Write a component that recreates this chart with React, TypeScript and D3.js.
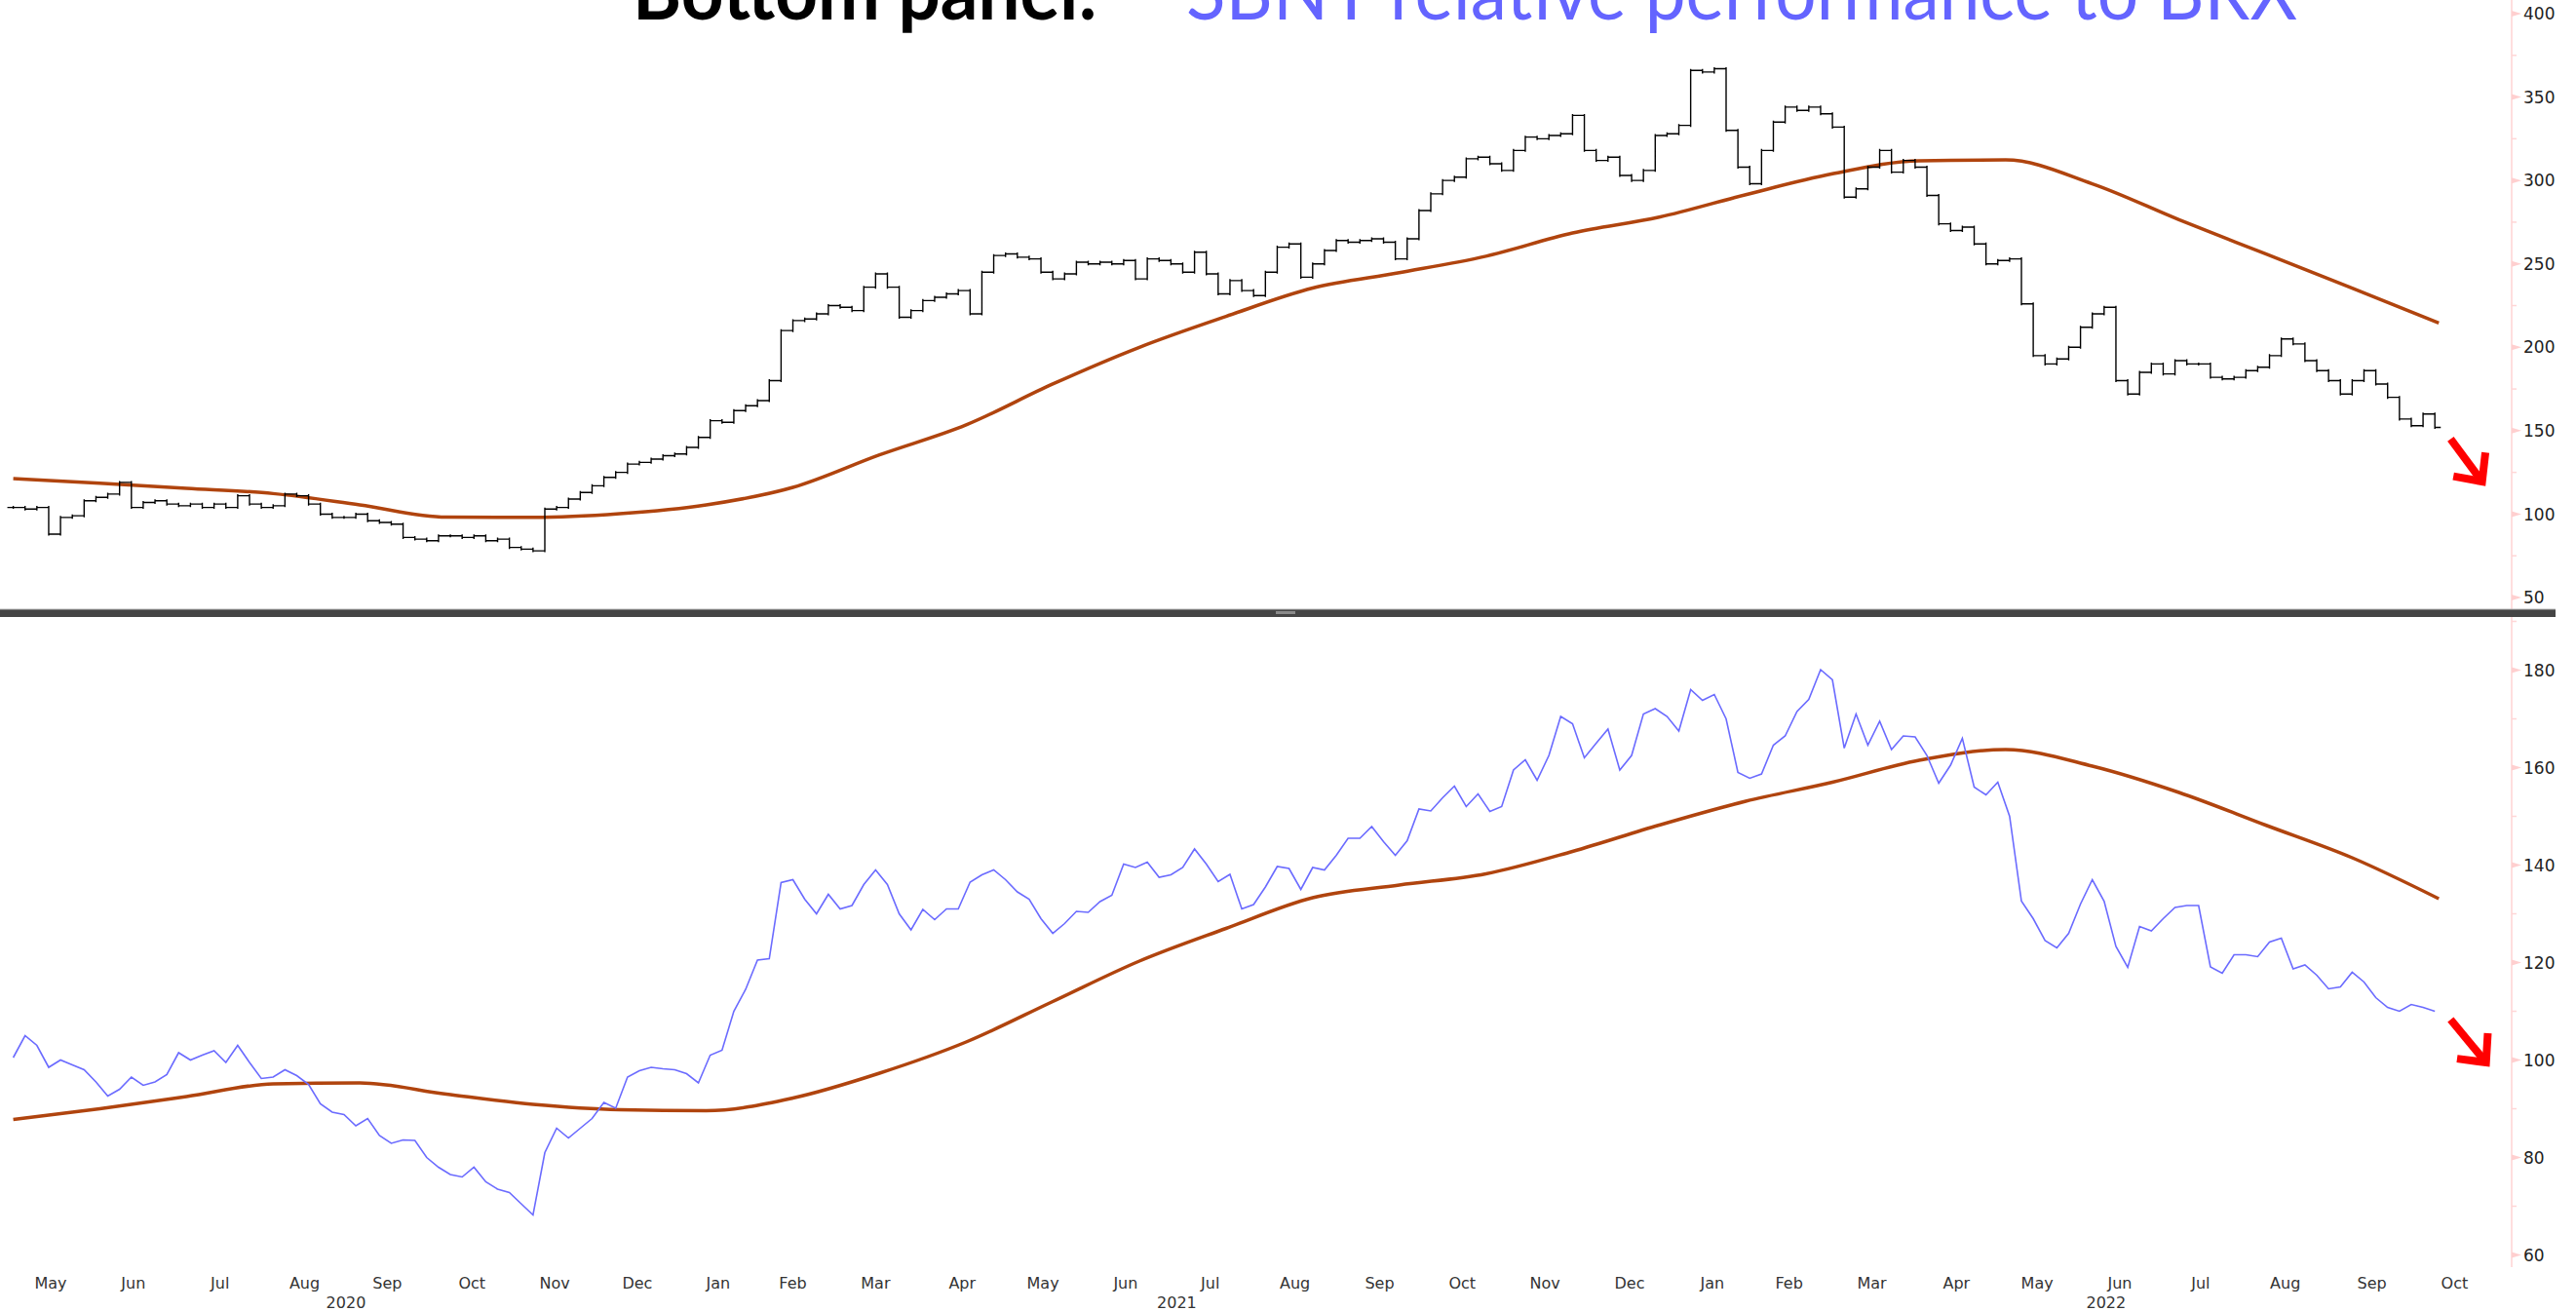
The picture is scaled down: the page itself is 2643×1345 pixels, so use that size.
import { useMemo } from "react";
import * as d3 from "d3";

const W = 2643;
const H = 1345;

// trading-day x axis: first day, last labelled month, year-label extent
const START = "2020-05-01";
const AXIS_END = "2022-10-31";
const YEAR_END = "2022-11-15";
const STEP = 3; // series sampled every 3 trading days
const MA_STEP = 22;

const holidays = [
  "2020-05-25", "2020-07-03", "2020-09-07", "2020-11-26", "2020-12-25",
  "2021-01-01", "2021-01-18", "2021-02-15", "2021-04-02", "2021-05-31",
  "2021-07-05", "2021-09-06", "2021-11-25", "2021-12-24",
  "2022-01-17", "2022-02-21", "2022-04-15", "2022-05-30", "2022-06-20",
  "2022-07-04", "2022-09-05", "2022-11-24",
];

// top panel: SBNY price bars (close every 3rd trading day)
const sbnyClose = [
  104, 103, 104, 88, 98, 99, 108, 110, 112, 119,
  104, 107, 108, 106, 105, 106, 104, 106, 104, 111,
  106, 104, 105, 112, 111, 106, 100, 98, 98, 100,
  96, 95, 94, 86, 85, 84, 87, 87, 86, 87,
  84, 85, 80, 79, 78, 103, 104, 109, 113, 117,
  122, 125, 130, 131, 133, 135, 136, 140, 146, 156,
  155, 162, 165, 168, 180, 210, 216, 217, 220, 225,
  224, 222, 236, 244, 236, 218, 222, 228, 230, 232,
  234, 220, 245, 255, 256, 254, 253, 245, 241, 244,
  251, 250, 251, 250, 252, 241, 253, 252, 250, 245,
  257, 244, 232, 240, 234, 231, 245, 260, 262, 242,
  250, 258, 264, 263, 264, 265, 263, 253, 265, 282,
  292, 300, 302, 313, 314, 310, 306, 318, 326, 325,
  327, 328, 339, 318, 312, 314, 303, 300, 306, 327,
  328, 333, 366, 365, 367, 330, 308, 298, 318, 335,
  344, 342, 344, 340, 332, 290, 295, 308, 318, 305,
  312, 308, 291, 274, 270, 272, 262, 250, 252, 253,
  226, 195, 190, 193, 200, 212, 220, 224, 180, 172,
  185, 190, 184, 192, 190, 190, 182, 181, 182, 186,
  188, 195, 205, 202, 192, 186, 180, 172, 180, 186,
  178, 170, 157, 153, 160, 152,
];

// top panel moving average (every 22 trading days)
const sbnyMA = [
  121.3, 118.5, 115.5, 112.3, 105.5, 98.2, 98, 100.2, 105.5, 116,
  135.5, 153.5, 178, 200, 218.5, 235.5, 244.7, 254.6, 268.5, 278,
  291.5, 304, 311.8, 312.3, 298, 276.5, 256, 235.5, 214.5,
];

// bottom panel: SBNY relative to BRX
const relPerf = [
  100.5, 105, 103, 98.5, 100, 99, 98, 95.5, 92.6, 94,
  96.5, 94.8, 95.5, 97, 101.5, 100, 101, 101.9, 99.5, 103,
  99.5, 96.2, 96.5, 98, 96.8, 95, 91, 89.3, 88.8, 86.5,
  88, 84.5, 82.9, 83.6, 83.5, 80, 78, 76.5, 76, 78,
  75, 73.5, 72.8, 70.5, 68.2, 81, 86, 84, 86, 88,
  91.3, 90.1, 96.5, 97.8, 98.5, 98.2, 98, 97.2, 95.3, 101,
  102, 110, 114.5, 120.5, 120.8, 136.4, 137, 133, 130, 134,
  131, 131.7, 136, 139, 136, 130, 126.7, 130.9, 128.8, 131,
  131, 136.5, 138, 139, 137, 134.5, 133, 129, 126, 128,
  130.5, 130.3, 132.5, 133.8, 140.2, 139.5, 140.6, 137.5, 138, 139.5,
  143.3, 140.2, 136.6, 138.1, 131, 131.9, 135.5, 139.7, 139.3, 135,
  139.5, 139, 142, 145.5, 145.5, 147.9, 144.8, 142, 145, 151.5,
  151.1, 153.8, 156.2, 152, 154.6, 151, 152, 159.5, 161.6, 157.4,
  162.5, 170.5, 169, 162, 165, 167.9, 159.5, 162.5, 171, 172.1,
  170.5, 167.5, 176, 173.8, 175, 170, 159, 157.8, 158.7, 164.6,
  166.5, 171.5, 174, 180.1, 178, 164, 171, 164.6, 169.5, 163.7,
  166.5, 166.3, 162.5, 156.8, 160.5, 166, 156, 154.4, 157, 150,
  132.6, 129, 124.5, 123, 126, 132, 137, 132.6, 123.3, 119,
  127.4, 126.5, 129, 131.3, 131.7, 131.7, 119.1, 117.8, 121.6, 121.6,
  121.2, 124.2, 125, 118.7, 119.5, 117.4, 114.6, 115, 118, 116,
  112.8, 110.8, 110, 111.4, 110.8, 110,
];

const relMA = [
  87.8, 90, 92.5, 95.1, 95.3, 93, 90.9, 89.8, 89.6, 92.2,
  97.3, 103.7, 112, 120.3, 127, 133.3, 135.9, 138.2, 142.8, 148.2,
  153.1, 157, 161.5, 163.7, 160.3, 154.9, 148.2, 141.5, 133.1,
];

const topTicks = [50, 100, 150, 200, 250, 300, 350, 400];
const topMinor = [75, 125, 175, 225, 275, 325, 375];
const botTicks = [60, 80, 100, 120, 140, 160, 180];
const botMinor = [70, 90, 110, 130, 150, 170, 190];

// red trend arrows: [idx0, v0, idx1, v1]
const topArrow = [619, 145, 627, 119.5];
const botArrow = [619, 108.3, 628, 99.5];

const AXIS_X = 2577;
const DIVIDER_Y = 625;
const tickFont = "'DejaVu Sans', Verdana, sans-serif";

export default function App() {
  const fmt = d3.utcFormat("%Y-%m-%d");
  const parse = (s: string) => new Date(s + "T00:00:00Z");

  const days = useMemo(() => {
    const hs = new Set(holidays);
    return d3.utcDay
      .range(parse(START), d3.utcDay.offset(parse(YEAR_END), 1))
      .filter((d) => d.getUTCDay() !== 0 && d.getUTCDay() !== 6 && !hs.has(fmt(d)));
  }, []);

  const axisEnd = parse(AXIS_END);
  const lastIdx = days.filter((d) => d <= axisEnd).length - 1;

  const x = d3.scaleLinear().domain([0, lastIdx]).range([13.6, 13.6 + 4.04 * lastIdx]);
  const yTop = d3.scaleLinear().domain([50, 400]).range([613, 14]);
  const yBot = d3.scaleLinear().domain([60, 180]).range([1287.5, 687.5]);

  const months = d3.groups(
    days.map((d, i) => ({ d, i })).filter((o) => o.d <= axisEnd),
    (o) => d3.utcFormat("%Y-%m")(o.d)
  ).map(([, arr]) => ({
    label: d3.utcFormat("%b")(arr[0].d),
    x: x(d3.mean(arr, (o) => o.i) as number),
  }));

  const years = d3.groups(
    days.map((d, i) => ({ d, i })),
    (o) => o.d.getUTCFullYear()
  ).map(([yr, arr]) => ({ label: String(yr), x: x(d3.mean(arr, (o) => o.i) as number) }));

  // price bars: vertical from previous close to close, open tick left, close tick right
  const half = (x(STEP) - x(0)) / 2;
  const barPath = sbnyClose
    .map((c, i) => {
      const o = i > 0 ? sbnyClose[i - 1] : c;
      const xi = x(i * STEP);
      const yo = yTop(o);
      const yc = yTop(c);
      return `M${xi},${Math.min(yo, yc) - 1.5}V${Math.max(yo, yc) + 1.5}M${xi - half},${yo}H${xi}M${xi},${yc}H${xi + half}`;
    })
    .join("");

  const maLine = (yS: d3.ScaleLinear<number, number>) =>
    d3.line<number>()
      .x((_, i) => x(i * MA_STEP))
      .y((v) => yS(v))
      .curve(d3.curveMonotoneX);

  const relLine = d3.line<number>()
    .x((_, i) => x(i * STEP))
    .y((v) => yBot(v));

  const arrow = (a: number[], yS: d3.ScaleLinear<number, number>) => {
    const x0 = x(a[0]), y0 = yS(a[1]), x1 = x(a[2]), y1 = yS(a[3]);
    const ang = Math.atan2(y1 - y0, x1 - x0);
    const L = 30;
    const w1 = [x1 - L * Math.cos(ang - 0.75), y1 - L * Math.sin(ang - 0.75)];
    const w2 = [x1 - L * Math.cos(ang + 0.75), y1 - L * Math.sin(ang + 0.75)];
    return (
      <g stroke="#ff0000" strokeWidth={8} fill="none" strokeLinecap="butt" strokeLinejoin="miter">
        <line x1={x0} y1={y0} x2={x1 - 4 * Math.cos(ang)} y2={y1 - 4 * Math.sin(ang)} />
        <polyline points={`${w1[0]},${w1[1]} ${x1},${y1} ${w2[0]},${w2[1]}`} />
      </g>
    );
  };

  const axisTicks = (
    ticks: number[],
    minor: number[],
    yS: d3.ScaleLinear<number, number>
  ) => (
    <g>
      {minor.map((v) => (
        <line key={"m" + v} x1={AXIS_X} x2={AXIS_X + 5} y1={yS(v)} y2={yS(v)} stroke="#ffd6d6" strokeWidth={1.5} />
      ))}
      {ticks.map((v) => (
        <g key={v}>
          <polygon
            points={`${AXIS_X},${yS(v) - 3} ${AXIS_X + 10},${yS(v)} ${AXIS_X},${yS(v) + 3}`}
            fill="#ffcfcf"
          />
          <text x={AXIS_X + 12} y={yS(v)} dy="0.36em" fontSize={17} fill="#222" fontFamily={tickFont}>
            {v}
          </text>
        </g>
      ))}
    </g>
  );

  return (
    <svg
      width={W}
      height={H}
      viewBox={`0 0 ${W} ${H}`}
      style={{ position: "absolute", left: 0, top: 0, display: "block", background: "#fff" }}
    >
      <rect width={W} height={H} fill="#fff" />

      {/* title, cut at the top edge as in the source */}
      <text x={649} y={20} fontSize={80} fontWeight="bold" fontFamily="Lato, 'Open Sans', sans-serif"
        textLength={477} lengthAdjust="spacingAndGlyphs" fill="#000">
        Bottom panel:
      </text>
      <text x={1217} y={20} fontSize={80} fontFamily="Lato, 'Open Sans', sans-serif"
        textLength={1140} lengthAdjust="spacingAndGlyphs" fill="#6464ff">
        SBNY relative performance to BRX
      </text>

      {/* right axes */}
      <line x1={AXIS_X} x2={AXIS_X} y1={0} y2={DIVIDER_Y} stroke="#ffdede" strokeWidth={2} />
      <line x1={AXIS_X} x2={AXIS_X} y1={DIVIDER_Y + 8} y2={1300} stroke="#ffdede" strokeWidth={2} />
      {axisTicks(topTicks, topMinor, yTop)}
      {axisTicks(botTicks, botMinor, yBot)}

      {/* top panel */}
      <path d={maLine(yTop)(sbnyMA) ?? ""} fill="none" stroke="#b0440e" strokeWidth={3.5} />
      <path d={barPath} fill="none" stroke="#000" strokeWidth={1.4} />
      {arrow(topArrow, yTop)}

      {/* divider */}
      <rect x={0} y={DIVIDER_Y} width={2622} height={8} fill="#454545" />
      <line x1={0} x2={2622} y1={DIVIDER_Y} y2={DIVIDER_Y} stroke="#b8b8b8" strokeWidth={1} />
      <rect x={1309} y={DIVIDER_Y + 2} width={20} height={3} fill="#8a8a8a" />

      {/* bottom panel */}
      <path d={maLine(yBot)(relMA) ?? ""} fill="none" stroke="#b0440e" strokeWidth={3.5} />
      <path d={relLine(relPerf) ?? ""} fill="none" stroke="#6b6bff" strokeWidth={1.6} />
      {arrow(botArrow, yBot)}

      {/* x axis labels */}
      {months.map((m, i) => (
        <text key={i} x={m.x} y={1322} textAnchor="middle" fontSize={16} fill="#333" fontFamily={tickFont}>
          {m.label}
        </text>
      ))}
      {years.map((y) => (
        <text key={y.label} x={y.x} y={1342} textAnchor="middle" fontSize={16} fill="#333" fontFamily={tickFont}>
          {y.label}
        </text>
      ))}
    </svg>
  );
}
